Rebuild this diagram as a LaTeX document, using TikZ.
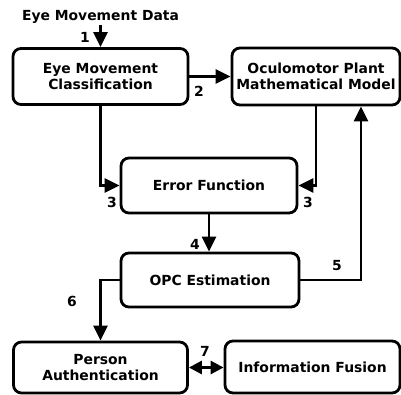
\documentclass[tikz,border=0pt]{standalone}
\usepackage{fontspec}
\setmainfont{DejaVu Sans}
\usepackage{tikz}
\usetikzlibrary{arrows.meta, positioning}

\tikzset{
    block/.style={draw, line width=2.8pt, rounded corners=8pt, align=center, inner sep=0pt},
    link/.style={line width=2.8pt, -{Triangle[length=15pt,width=14pt]}},
    num/.style={inner sep=0pt}
}

\begin{document}
\begin{tikzpicture}[x=1pt, y=-1pt, font=\fontsize{13.9}{16}\selectfont\bfseries]
    \useasboundingbox (0,0) rectangle (401,395);

    % Boxes
    \node[block, minimum width=175pt, minimum height=56pt] (classify) at (100.5,76.5) {Eye Movement\\Classification};
    \node[block, minimum width=168pt, minimum height=57pt] (plant) at (316,76.5) {Oculomotor Plant\\Mathematical Model};
    \node[block, minimum width=176pt, minimum height=55pt] (error) at (209,185.5) {Error Function};
    \node[block, minimum width=178pt, minimum height=54pt] (opc) at (210,280) {OPC Estimation};
    \node[block, minimum width=174pt, minimum height=51pt] (auth) at (100.5,367.5) {Person\\Authentication};
    \node[block, minimum width=175pt, minimum height=52pt] (fusion) at (312.5,367) {Information Fusion};

    % Input
    \node[inner sep=1pt] (data) at (100.5,17) {Eye Movement Data};

    % Connectors
    \draw[link] (data.south) -- (classify.north);
    \draw[link] (classify.east) -- (plant.west);
    \draw[link] (classify.south) |- (error.west);
    \draw[link] (plant.south) |- (error.east);
    \draw[link] (error.south) -- (error.south |- opc.north);
    \draw[link] (opc.east) -| ([xshift=45pt]plant.south);
    \draw[link] (opc.west) -| (auth.north);
    \draw[line width=2.8pt, {Triangle[length=13pt,width=13pt]}-{Triangle[length=13pt,width=13pt]}] (auth.east) -- (auth.east -| fusion.west);

    % Step numbers
    \node[num] (n1) at (85,37) {1};
    \node[num] (n2) at (199,91) {2};
    \node[num] (n3a) at (112,202) {3};
    \node[num] (n3b) at (308,202) {3};
    \node[num] (n4) at (195,244) {4};
    \node[num] (n5) at (337,266) {5};
    \node[num] (n6) at (72,301) {6};
    \node[num] (n7) at (205,351) {7};
\end{tikzpicture}
\end{document}
